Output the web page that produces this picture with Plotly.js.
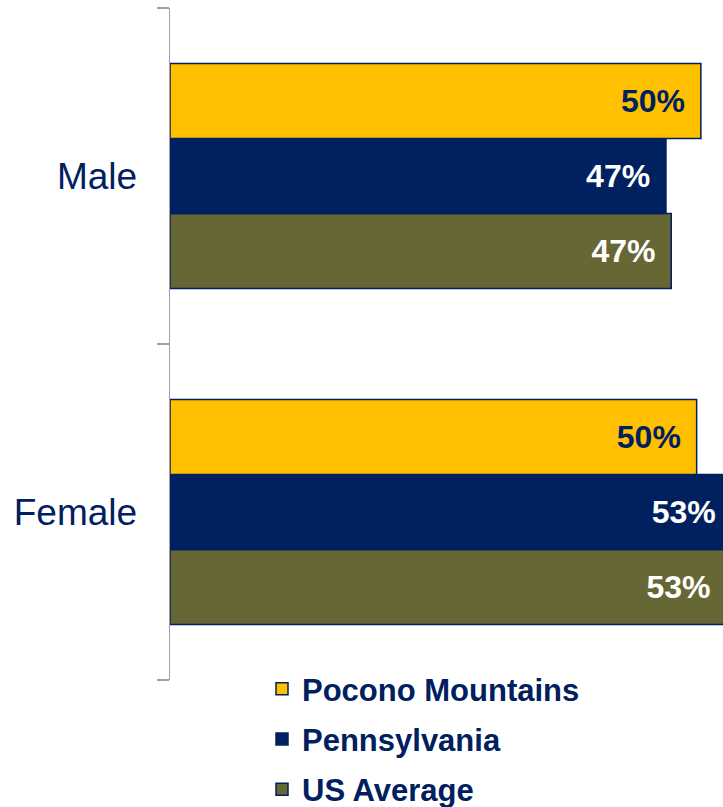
<!DOCTYPE html>
<html>
<head>
<meta charset="utf-8">
<script src="https://cdn.plot.ly/plotly-3.0.1.min.js"></script>
<style>
html, body { margin: 0; padding: 0; overflow: hidden; background: #fff; }
#chart { width: 760px; height: 807px; }
</style>
</head>
<body>
<div id="chart"></div>
<script>
// Data
const categories = ['Male', 'Female'];
const seriesNames = ['Pocono Mountains', 'Pennsylvania', 'US Average'];
const poconoValues = [50.2, 49.8];
const pennsylvaniaValues = [46.9, 53.1];
const usAverageValues = [47.4, 52.6];

const colors = ['#FFC000', '#002060', '#676735'];
const textColors = ['#002060', '#FFFFFF', '#FFFFFF'];
const values = [poconoValues, pennsylvaniaValues, usAverageValues];

const FONT = '"Liberation Sans", Arial, sans-serif';

// Build traces; added in reverse so the first series sits on top of each group
const traces = seriesNames.map((name, i) => ({
  type: 'bar',
  orientation: 'h',
  name: name,
  y: categories,
  x: values[i],
  legendgroup: 'g' + i,
  legendrank: i + 1,
  marker: { color: colors[i], line: { color: '#002060', width: 1.5 } },
  texttemplate: '%{x:.0f}%\u2009\u2009',
  textposition: 'inside',
  insidetextanchor: 'end',
  textangle: 0,
  constraintext: 'none',
  insidetextfont: { family: FONT, size: 32, color: textColors[i], weight: 'bold' },
  hoverinfo: 'none'
})).reverse();

const pxPerPct = 10.575;
const plotW = 760 - 170;

const layout = {
  width: 760,
  height: 807,
  margin: { l: 170, r: 0, t: 8, b: 127, autoexpand: false },
  paper_bgcolor: '#FFFFFF',
  plot_bgcolor: '#FFFFFF',
  barmode: 'group',
  bargap: 0.33,
  bargroupgap: 0,
  showlegend: true,
  legend: {
    orientation: 'v',
    x: (262 - 170) / plotW,
    xanchor: 'left',
    yref: 'container',
    y: 1 - 662 / 807,
    yanchor: 'top',
    tracegroupgap: 7,
    itemwidth: 30,
    font: { family: FONT, size: 31, color: '#002060', weight: 'bold' },
    bgcolor: 'rgba(0,0,0,0)'
  },
  xaxis: {
    range: [0, plotW / pxPerPct],
    visible: false,
    fixedrange: true
  },
  yaxis: {
    type: 'category',
    categoryorder: 'array',
    categoryarray: categories.slice().reverse(),
    showline: true,
    linecolor: '#A0A0A0',
    linewidth: 1.5,
    ticks: 'outside',
    tickson: 'boundaries',
    ticklen: 12,
    tickwidth: 1.5,
    tickcolor: '#A0A0A0',
    showgrid: false,
    zeroline: false,
    tickfont: { family: FONT, size: 37, color: '#002060' },
    ticklabelstandoff: 24,
    fixedrange: true
  }
};

Plotly.newPlot('chart', traces, layout, { displayModeBar: false, staticPlot: true });
</script>
</body>
</html>
